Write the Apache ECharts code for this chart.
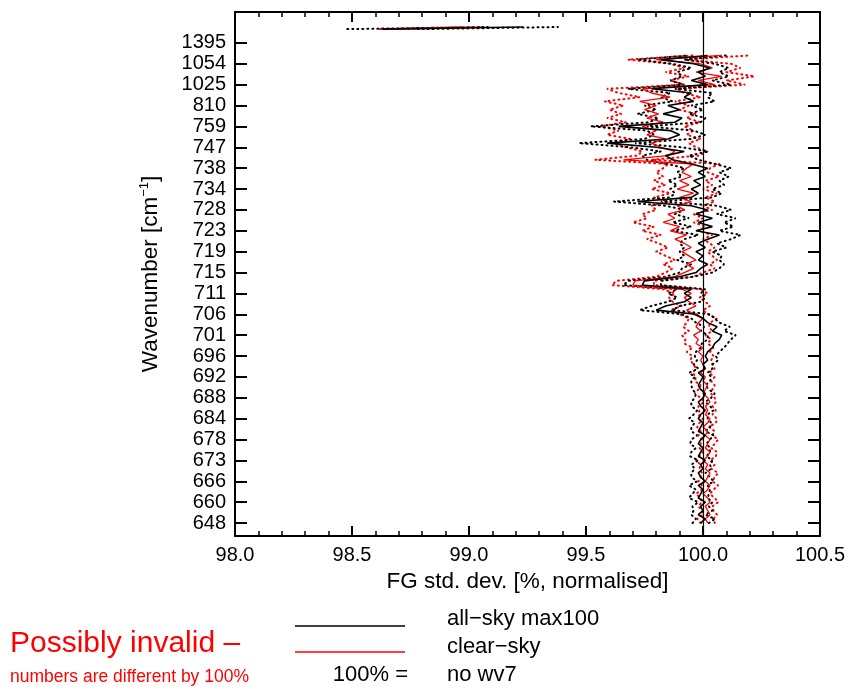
<!DOCTYPE html>
<html>
<head>
<meta charset="utf-8">
<script src="https://cdn.jsdelivr.net/npm/echarts@6/dist/echarts.min.js"></script>
<style>
html,body{margin:0;padding:0;background:#fff;}
#chart{width:853px;height:690px;}
</style>
</head>
<body>
<div id="chart"></div>
<script>
// Tick labels (wavenumber, cm-1), one every 5 channel steps from bottom to top
const wavenumberLabels = ['648','660','666','673','678','684','688','692','696','701','706','711','715','719','723','728','734','738','747','759','810','1025','1054','1395'];
const labelStep = 5;

// all-sky max100 (black solid), channel index 0..112 bottom to top
const allSky = [
  99.99,100.01,99.98,100.0,99.99,100.01,99.98,99.99,100.0,99.98,
  100.01,99.99,99.98,100.0,99.99,100.01,99.98,99.99,100.0,99.98,
  99.99,100.01,99.98,99.99,100.0,99.98,99.99,100.01,99.99,99.98,
  100.0,100.01,99.99,99.98,99.99,100.0,99.98,100.01,100.0,100.02,
  100.01,100.02,100.04,100.05,100.07,100.08,100.04,100.06,100.02,100.0,
  99.97,99.8,99.84,99.92,99.95,99.92,99.95,99.74,99.75,99.9,
  99.97,99.99,100.02,99.98,100.0,99.97,100.01,99.98,100.02,100.07,
  99.97,100.04,99.98,100.04,99.97,100.02,99.95,99.72,99.95,99.98,
  99.95,99.99,99.96,100.01,99.98,100.02,99.95,99.87,99.84,99.92,
  99.8,99.59,99.85,99.9,99.86,99.64,99.88,99.91,99.83,99.9,
  99.85,99.96,99.92,99.95,99.78,100.02,99.95,100.01,99.98,100.03,99.96,99.82,100.02
];
// half-width of the all-sky uncertainty band (black dotted)
const allSkyErr = [
  0.035,0.04,0.03,0.04,0.035,0.03,0.04,0.035,0.03,0.04,
  0.035,0.04,0.03,0.035,0.04,0.03,0.035,0.04,0.03,0.035,
  0.04,0.035,0.03,0.04,0.035,0.04,0.03,0.035,0.04,0.03,
  0.035,0.04,0.035,0.03,0.04,0.035,0.04,0.03,0.04,0.045,
  0.045,0.05,0.05,0.055,0.05,0.06,0.05,0.055,0.05,0.05,
  0.06,0.07,0.06,0.07,0.06,0.07,0.06,0.08,0.07,0.06,
  0.07,0.08,0.07,0.09,0.08,0.07,0.09,0.08,0.1,0.09,
  0.1,0.09,0.11,0.1,0.09,0.1,0.11,0.1,0.09,0.1,
  0.09,0.1,0.11,0.1,0.09,0.1,0.1,0.11,0.1,0.1,
  0.11,0.12,0.1,0.11,0.1,0.12,0.11,0.1,0.11,0.1,
  0.1,0.09,0.1,0.09,0.1,0.1,0.09,0.1,0.09,0.08,0.09,0.1,0.08
];
// clear-sky (red solid)
const clearSky = [
  100.02,100.01,100.03,100.02,100.01,100.03,100.02,100.0,100.02,100.03,
  100.01,100.02,100.03,100.01,100.02,100.0,100.02,100.03,100.01,100.02,
  100.03,100.01,100.02,100.0,100.02,100.03,100.01,100.02,100.01,100.03,
  100.02,100.0,100.01,100.02,100.0,100.01,99.99,100.01,100.0,99.99,
  100.0,99.98,100.0,99.97,99.98,99.96,99.99,99.97,99.98,100.0,
  99.96,99.93,99.97,99.94,99.92,99.95,99.91,99.7,99.71,99.88,
  99.92,99.96,99.93,99.97,99.94,99.91,99.95,99.92,99.88,99.93,
  99.86,99.9,99.83,99.88,99.85,99.92,99.89,99.95,99.9,99.96,
  99.89,99.94,99.9,99.95,99.91,99.93,99.96,99.66,99.85,99.88,
  99.82,99.78,99.84,99.76,99.8,99.74,99.83,99.76,99.81,99.75,
  99.8,99.73,99.86,99.78,99.74,100.05,99.98,100.08,99.97,100.04,99.99,99.8,100.08
];
// half-width of the clear-sky uncertainty band (red dotted)
const clearSkyErr = [
  0.03,0.035,0.03,0.025,0.03,0.035,0.03,0.03,0.025,0.035,
  0.03,0.03,0.035,0.025,0.03,0.03,0.035,0.03,0.025,0.03,
  0.035,0.03,0.03,0.025,0.035,0.03,0.03,0.035,0.03,0.025,
  0.03,0.035,0.03,0.03,0.035,0.04,0.035,0.04,0.04,0.045,
  0.045,0.05,0.045,0.05,0.055,0.05,0.05,0.055,0.05,0.06,
  0.06,0.07,0.06,0.07,0.065,0.07,0.08,0.09,0.08,0.08,
  0.08,0.09,0.1,0.09,0.1,0.11,0.1,0.11,0.12,0.11,
  0.12,0.11,0.13,0.12,0.11,0.12,0.11,0.1,0.11,0.1,
  0.11,0.1,0.11,0.12,0.11,0.1,0.11,0.12,0.13,0.14,
  0.15,0.16,0.15,0.17,0.16,0.18,0.16,0.17,0.16,0.15,
  0.14,0.15,0.13,0.14,0.15,0.13,0.12,0.14,0.13,0.12,0.13,0.12,0.12
];
// separate top channels (1395 group)
const topIdx = [118.3, 118.8];
const topAllSky = [98.63, 99.23];
const topAllSkyErr = [0.15, 0.15];
const topClearSky = [98.66, 99.02];
const topClearSkyErr = [0.04, 0.04];

const mainIdx = allSky.map((_, i) => i);
const pts = (vals, idx) => vals.map((v, k) => [v, idx[k]]);
const lower = (vals, err) => vals.map((v, k) => v - err[k]);
const upper = (vals, err) => vals.map((v, k) => v + err[k]);

const tickVals = wavenumberLabels.map((_, k) => k * labelStep);
const FONT = 'Liberation Sans, Arial, Helvetica, sans-serif';
const RED = '#ff0000';

function dotted(color, data) {
  return {type:'line', data, symbol:'none', silent:true, animation:false,
    lineStyle:{color, width:2, type:[1,4], cap:'round'}, z:2};
}
function solid(color, data, width, z) {
  return {type:'line', data, symbol:'none', silent:true, animation:false,
    lineStyle:{color, width}, z};
}

const series = [
  dotted(RED, pts(lower(clearSky, clearSkyErr), mainIdx)),
  dotted(RED, pts(upper(clearSky, clearSkyErr), mainIdx)),
  dotted('#000', pts(lower(allSky, allSkyErr), mainIdx)),
  dotted('#000', pts(upper(allSky, allSkyErr), mainIdx)),
  dotted(RED, pts(lower(topClearSky, topClearSkyErr), topIdx)),
  dotted(RED, pts(upper(topClearSky, topClearSkyErr), topIdx)),
  dotted('#000', pts(lower(topAllSky, topAllSkyErr), topIdx)),
  dotted('#000', pts(upper(topAllSky, topAllSkyErr), topIdx)),
  solid(RED, pts(clearSky, mainIdx), 1.3, 3),
  solid(RED, pts(topClearSky, topIdx), 1.3, 3),
  solid('#000', pts(topAllSky, topIdx), 1.6, 4),
  Object.assign(solid('#000', pts(allSky, mainIdx), 1.6, 4), {
    markLine:{silent:true, symbol:'none', animation:false, label:{show:false},
      lineStyle:{color:'#000', width:1.2, type:'solid'}, data:[{xAxis:100}]}
  })
];

const xCommon = {
  type:'value', min:98, max:100.5, interval:0.5,
  axisLine:{show:true, onZero:false, lineStyle:{color:'#000', width:2}},
  axisTick:{show:true, inside:true, length:10, lineStyle:{color:'#000', width:2}},
  minorTick:{show:true, splitNumber:5, length:5, lineStyle:{color:'#000', width:1.5}},
  splitLine:{show:false}
};
const yCommon = {
  type:'value', min:-3.1, max:122.4,
  axisLine:{show:true, onZero:false, lineStyle:{color:'#000', width:2}},
  axisTick:{show:true, inside:true, length:12, customValues:tickVals, lineStyle:{color:'#000', width:2}},
  splitLine:{show:false}
};

const option = {
  animation:false,
  grid:{left:235, right:33, top:12, bottom:154, containLabel:false},
  xAxis:[
    Object.assign({}, xCommon, {position:'bottom',
      axisLabel:{formatter:(v)=>v.toFixed(1), fontSize:20, color:'#000', margin:9, fontFamily:FONT},
      name:'FG std. dev. [%, normalised]', nameLocation:'middle', nameGap:33,
      nameTextStyle:{fontSize:22.5, color:'#000', fontFamily:FONT}}),
    Object.assign({}, xCommon, {position:'top', axisLabel:{show:false}})
  ],
  yAxis:[
    Object.assign({}, yCommon, {position:'left',
      axisLabel:{customValues:tickVals, formatter:(v)=>wavenumberLabels[Math.round(v/labelStep)],
        fontSize:20, color:'#000', margin:9, fontFamily:FONT},
      name:'Wavenumber [cm{sup|−1}]', nameLocation:'middle', nameGap:71, nameRotate:90,
      nameTextStyle:{fontSize:22.5, color:'#000', fontFamily:FONT, lineHeight:26,
        rich:{sup:{fontSize:13, verticalAlign:'top', color:'#000', fontFamily:FONT, lineHeight:26}}}}),
    Object.assign({}, yCommon, {position:'right', axisLabel:{show:false}})
  ],
  series,
  graphic:[
    {type:'line', shape:{x1:295, y1:626, x2:405, y2:626}, style:{stroke:'#000', lineWidth:1.3}},
    {type:'line', shape:{x1:295, y1:652, x2:405, y2:652}, style:{stroke:RED, lineWidth:1.3}},
    {type:'text', left:447, top:608, style:{text:'all−sky max100', fontSize:22, fill:'#000', fontFamily:FONT}},
    {type:'text', left:447, top:636, style:{text:'clear−sky', fontSize:22, fill:'#000', fontFamily:FONT}},
    {type:'text', left:447, top:664, style:{text:'no wv7', fontSize:22, fill:'#000', fontFamily:FONT}},
    {type:'text', right:445, top:664, style:{text:'100% =', fontSize:22, fill:'#000', fontFamily:FONT}},
    {type:'text', left:10, top:629, style:{text:'Possibly invalid –', fontSize:30, fill:RED, fontFamily:FONT}},
    {type:'text', left:10, top:668, style:{text:'numbers are different by 100%', fontSize:17.5, fill:RED, fontFamily:FONT}}
  ]
};

const chart = echarts.init(document.getElementById('chart'), null, {renderer:'canvas'});
chart.setOption(option);
</script>
</body>
</html>
